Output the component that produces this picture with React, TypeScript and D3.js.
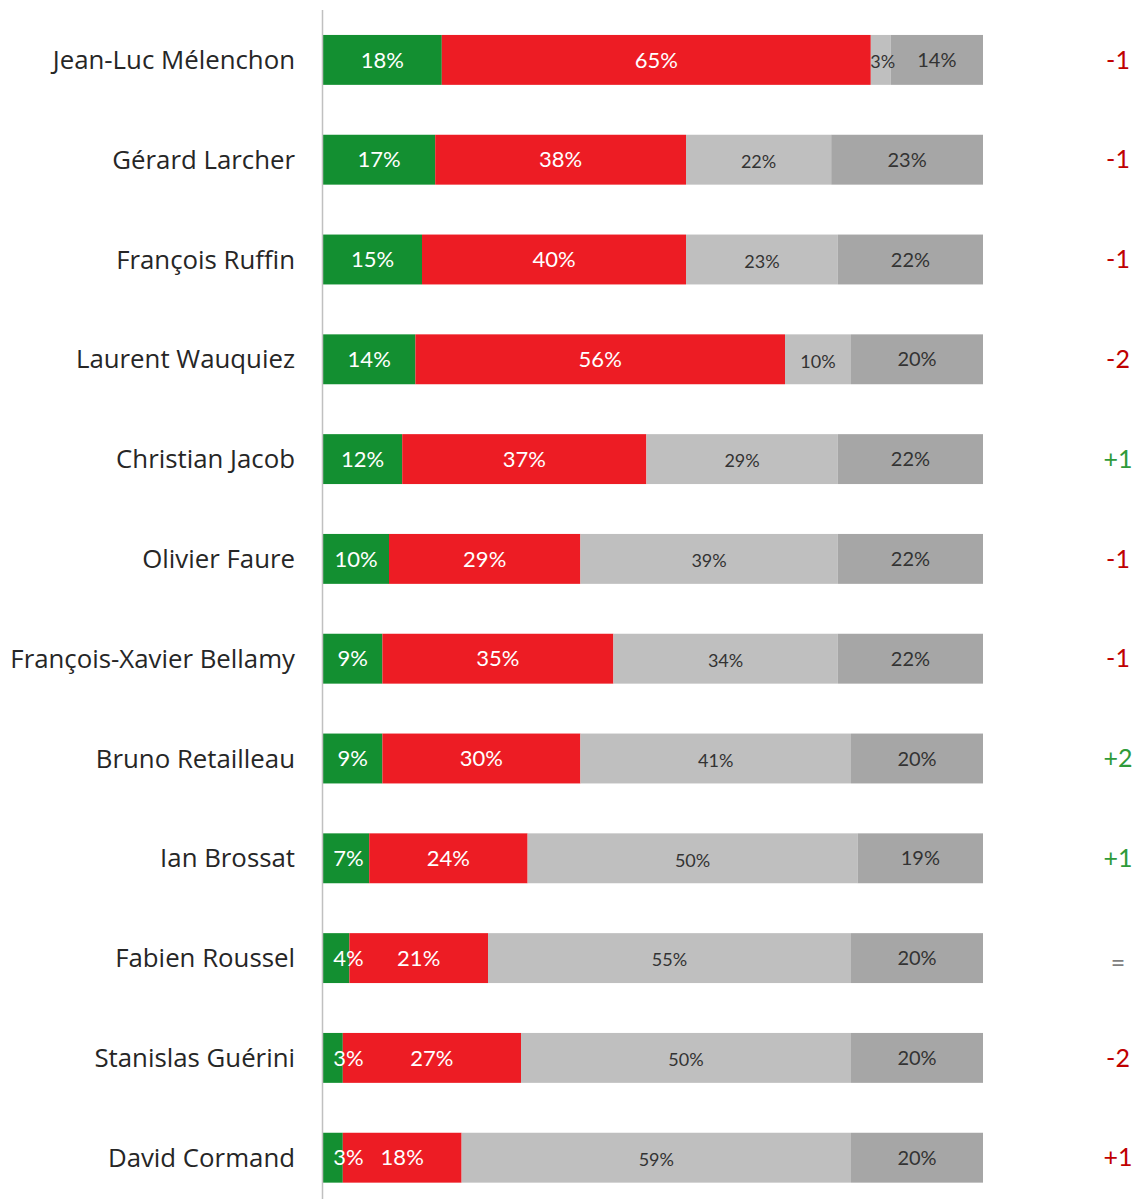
import React from 'react';
import * as d3 from 'd3';

const names = [
  'Jean-Luc Mélenchon',
  'Gérard Larcher',
  'François Ruffin',
  'Laurent Wauquiez',
  'Christian Jacob',
  'Olivier Faure',
  'François-Xavier Bellamy',
  'Bruno Retailleau',
  'Ian Brossat',
  'Fabien Roussel',
  'Stanislas Guérini',
  'David Cormand',
];

// bonne opinion / mauvaise opinion / ne connaît pas / ne se prononce pas
const good = [18, 17, 15, 14, 12, 10, 9, 9, 7, 4, 3, 3];
const bad = [65, 38, 40, 56, 37, 29, 35, 30, 24, 21, 27, 18];
const unknown = [3, 22, 23, 10, 29, 39, 34, 41, 50, 55, 50, 59];
const noAnswer = [14, 23, 22, 20, 22, 22, 22, 20, 19, 20, 20, 20];

const changes = ['-1', '-1', '-1', '-2', '+1', '-1', '-1', '+2', '+1', '=', '-2', '+1'];
const changeColors = ['#c00000', '#c00000', '#c00000', '#c00000', '#2f9a3a', '#c00000', '#c00000', '#2f9a3a', '#2f9a3a', '#7f7f7f', '#c00000', '#c00000'];

const W = 1146;
const H = 1199;
const FONT = 'Lato, "Open Sans", sans-serif';

const segColors = ['#138f31', '#ed1c24', '#bfbfbf', '#a6a6a6'];
const textColors = ['#ffffff', '#ffffff', '#333333', '#333333'];
const textSizes = [22, 22, 18, 20];
const textDy = [0, 0, 2, 0];

const App = () => {
  const x = d3.scaleLinear().domain([0, 100]).range([323, 983]);
  const y = d3
    .scaleBand<string>()
    .domain(names)
    .range([10, 1207.6])
    .paddingInner(0.5)
    .paddingOuter(0.25);

  const rows = names.map((n, i) => ({
    name: n,
    good: good[i],
    bad: bad[i],
    unknown: unknown[i],
    noAnswer: noAnswer[i],
  }));
  const keys = ['good', 'bad', 'unknown', 'noAnswer'];
  const series = d3.stack<any>().keys(keys)(rows);

  return (
    <svg width={W} height={H} style={{ display: 'block', position: 'absolute', left: 0, top: 0 }} fontFamily={FONT}>
      <rect width={W} height={H} fill="#fff" />
      {series.map((s, k) => (
        <g key={k}>
          {s.map((d, i) => (
            <rect
              key={i}
              x={x(d[0])}
              y={y(names[i])!}
              width={Math.max(0, x(d[1]) - x(d[0]))}
              height={y.bandwidth()}
              fill={segColors[k]}
            />
          ))}
        </g>
      ))}
      {series.map((s, k) => (
        <g key={'t' + k}>
          {s.map((d, i) => {
            const x0 = x(d[0]);
            const x1 = x(d[1]);
            const yy = y(names[i])!;
            const bw = y.bandwidth();
            const v = d[1] - d[0];
            const approxW = textSizes[k] * 0.55 * (String(v).length + 1.4);
            let tx = (x0 + x1) / 2;
            if (k === 0) tx = Math.max(tx, x0 + 11 + approxW / 2);
            if (k === 2) tx = Math.max(tx, x0 + approxW / 2);
            return (
              <text
                key={i}
                x={tx}
                y={yy + bw / 2 + textDy[k]}
                dy="0.35em"
                textAnchor="middle"
                fontSize={textSizes[k]}
                fill={textColors[k]}
              >
                {v}%
              </text>
            );
          })}
        </g>
      ))}
      <line x1={322.5} x2={322.5} y1={10} y2={H} stroke="#c0c0c0" strokeWidth={1.5} />
      {names.map((n) => (
        <text
          key={n}
          x={295}
          y={y(n)! + y.bandwidth() / 2}
          dy="0.35em"
          textAnchor="end"
          fontSize={25.8}
          fontFamily='"Open Sans", sans-serif'
          fill="#262626"
        >
          {n}
        </text>
      ))}
      {changes.map((c, i) => (
        <text
          key={i}
          x={1118}
          y={y(names[i])! + y.bandwidth() / 2 + (c === '=' ? 5 : 0)}
          dy="0.35em"
          textAnchor="middle"
          fontSize={25}
          fill={changeColors[i]}
        >
          {c}
        </text>
      ))}
    </svg>
  );
};

export default App;
